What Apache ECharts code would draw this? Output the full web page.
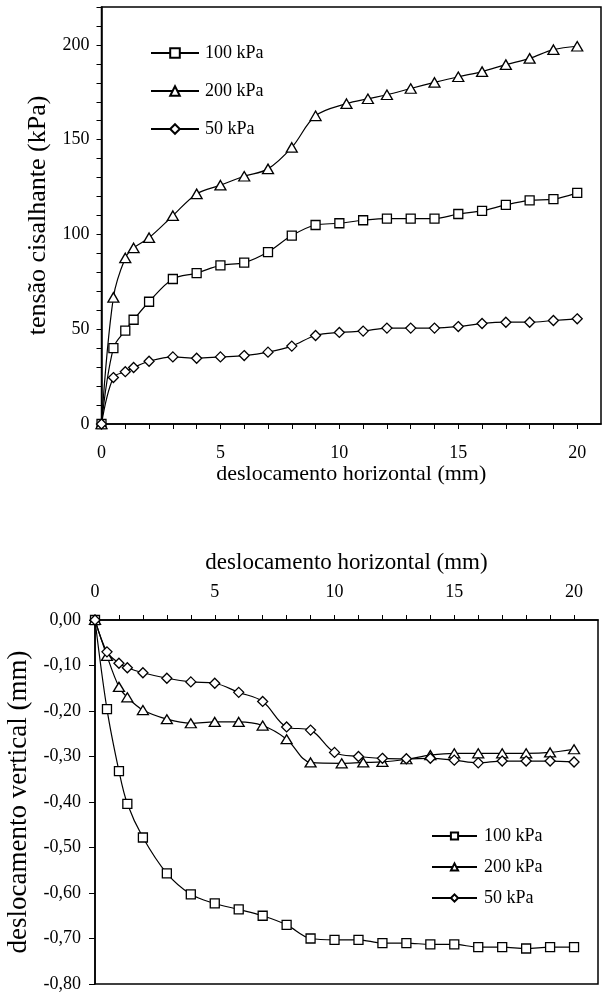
<!DOCTYPE html>
<html>
<head>
<meta charset="utf-8">
<script src="https://cdn.jsdelivr.net/npm/echarts@6/dist/echarts.min.js"></script>
<style>
  html, body { margin: 0; padding: 0; background: #fff; }
  #chart { width: 605px; height: 1004px; }
</style>
</head>
<body>
<div id="chart"></div>
<script>
// Horizontal displacement (mm) at each reading
const xStd = [0, 0.5, 1, 1.35, 2, 3, 4, 5, 6, 7, 8, 9, 10, 11, 12, 13, 14, 15, 16, 17, 18, 19, 20];
const x200 = [0, 0.5, 1, 1.35, 2, 3, 4, 5, 6, 7, 8, 9, 10.3, 11.2, 12, 13, 14, 15, 16, 17, 18, 19, 20];

// Shear stress (kPa)
const shear100 = [0, 40, 49.3, 55, 64.5, 76.5, 79.6, 83.7, 85.1, 90.7, 99.4, 105, 105.9, 107.5, 108.4, 108.4, 108.4, 110.8, 112.4, 115.6, 118, 118.6, 121.9];
const shear200 = [0, 66.8, 87.6, 92.9, 98.3, 109.9, 121.4, 126, 130.7, 134.6, 145.9, 162.6, 169, 171.6, 173.7, 177, 180.2, 183.2, 185.9, 189.6, 192.9, 197.5, 199.3];
const shear50 = [0, 24.5, 27.6, 29.8, 33.1, 35.4, 34.7, 35.4, 36.1, 37.9, 41.1, 46.7, 48.3, 49, 50.6, 50.6, 50.6, 51.4, 53, 53.7, 53.7, 54.6, 55.5];

// Vertical displacement (mm)
const vert100 = [0, -0.196, -0.332, -0.404, -0.478, -0.557, -0.603, -0.623, -0.636, -0.650, -0.670, -0.700, -0.703, -0.703, -0.710, -0.710, -0.713, -0.713, -0.719, -0.719, -0.722, -0.719, -0.719];
const vert200 = [0, -0.079, -0.147, -0.170, -0.198, -0.218, -0.227, -0.224, -0.224, -0.232, -0.262, -0.313, -0.315, -0.313, -0.312, -0.306, -0.297, -0.293, -0.293, -0.293, -0.293, -0.291, -0.284];
const vert50 = [0, -0.070, -0.095, -0.105, -0.116, -0.128, -0.136, -0.139, -0.159, -0.179, -0.235, -0.242, -0.291, -0.300, -0.304, -0.305, -0.304, -0.308, -0.314, -0.310, -0.310, -0.310, -0.312];

const seriesNames = ['100 kPa', '200 kPa', '50 kPa'];
const xTitle = 'deslocamento horizontal (mm)';
const yTitleTop = 'tensão cisalhante (kPa)';
const yTitleBottom = 'deslocamento vertical (mm)';

const FONT = "'Liberation Serif', 'Times New Roman', serif";
const INK = '#000';

const pairs = (xs, ys) => xs.map((x, i) => [x, ys[i]]);

function markerStyle() {
  return { color: '#fff', borderColor: INK, borderWidth: 1.3 };
}

function curve(name, xs, ys, grid, symbol, size) {
  return {
    name: name,
    type: 'line',
    xAxisIndex: grid,
    yAxisIndex: grid,
    data: pairs(xs, ys),
    smooth: 0.35,
    symbol: symbol,
    symbolSize: size,
    showAllSymbol: true,
    lineStyle: { color: INK, width: 1.2 },
    itemStyle: markerStyle(),
    emphasis: { disabled: true },
    animation: false
  };
}

const baseAxisLine = { show: true, lineStyle: { color: INK, width: 1.5 } };
const baseTick = { show: true, length: 5, lineStyle: { color: INK, width: 1 } };
const labelText = { color: INK, fontFamily: FONT, fontSize: 18 };
const nameText = (size) => ({ color: INK, fontFamily: FONT, fontSize: size });

const chart = echarts.init(document.getElementById('chart'), null, { renderer: 'canvas' });

chart.setOption({
  backgroundColor: '#fff',
  animation: false,
  grid: [
    { left: 101.5, right: 4, top: 7, height: 417, containLabel: false, outerBoundsMode: 'none',
      show: true, borderColor: INK, borderWidth: 1.5, backgroundColor: 'transparent' },
    { left: 95, right: 7, top: 620, height: 364, containLabel: false, outerBoundsMode: 'none',
      show: true, borderColor: INK, borderWidth: 1.5, backgroundColor: 'transparent' }
  ],
  xAxis: [
    {
      type: 'value', gridIndex: 0, position: 'bottom',
      min: 0, max: 21, interval: 1,
      axisLine: baseAxisLine, axisTick: baseTick, splitLine: { show: false },
      axisLabel: Object.assign({ margin: 20, showMaxLabel: false,
        formatter: v => (v % 5 === 0 && v <= 20) ? String(v) : '' }, labelText),
      name: xTitle, nameLocation: 'middle', nameGap: 38, nameTextStyle: nameText(22)
    },
    {
      type: 'value', gridIndex: 1, position: 'top',
      min: 0, max: 21, interval: 1,
      axisLine: baseAxisLine, axisTick: baseTick, splitLine: { show: false },
      axisLabel: Object.assign({ margin: 19, showMaxLabel: false,
        formatter: v => (v % 5 === 0 && v <= 20) ? String(v) : '' }, labelText),
      name: xTitle, nameLocation: 'middle', nameGap: 46, nameTextStyle: nameText(23)
    }
  ],
  yAxis: [
    {
      type: 'value', gridIndex: 0,
      min: 0, max: 220, interval: 10,
      axisLine: baseAxisLine, axisTick: baseTick, splitLine: { show: false },
      axisLabel: Object.assign({ margin: 12,
        formatter: v => (v % 50 === 0) ? String(v) : '' }, labelText),
      name: yTitleTop, nameLocation: 'middle', nameGap: 46, nameTextStyle: nameText(26)
    },
    {
      type: 'value', gridIndex: 1,
      min: -0.8, max: 0, interval: 0.1,
      axisLine: baseAxisLine, axisTick: Object.assign({}, baseTick, { length: 6 }), splitLine: { show: false },
      axisLabel: Object.assign({ margin: 14,
        formatter: v => v.toFixed(2).replace('-0,00', '0,00').replace('.', ',') }, labelText),
      name: yTitleBottom, nameLocation: 'middle', nameGap: 57, nameTextStyle: nameText(27)
    }
  ],
  legend: [
    {
      data: seriesNames, orient: 'vertical', left: 145, top: 39,
      itemWidth: 48, itemHeight: 12, itemGap: 20, selectedMode: false,
      textStyle: { color: INK, fontFamily: FONT, fontSize: 18, padding: [0, 0, 0, 1] }
    },
    {
      data: seriesNames, orient: 'vertical', left: 426, top: 822,
      itemWidth: 45, itemHeight: 9, itemGap: 13, selectedMode: false,
      textStyle: { color: INK, fontFamily: FONT, fontSize: 18, padding: [0, 0, 0, 2] }
    }
  ],
  series: [
    curve(seriesNames[0], xStd, shear100, 0, 'rect', 9),
    curve(seriesNames[1], x200, shear200, 0, 'triangle', [11, 9.5]),
    curve(seriesNames[2], xStd, shear50, 0, 'diamond', [10, 10]),
    curve(seriesNames[0], xStd, vert100, 1, 'rect', 9),
    curve(seriesNames[1], x200, vert200, 1, 'triangle', [11, 9]),
    curve(seriesNames[2], xStd, vert50, 1, 'diamond', [10, 10])
  ]
});
</script>
</body>
</html>
